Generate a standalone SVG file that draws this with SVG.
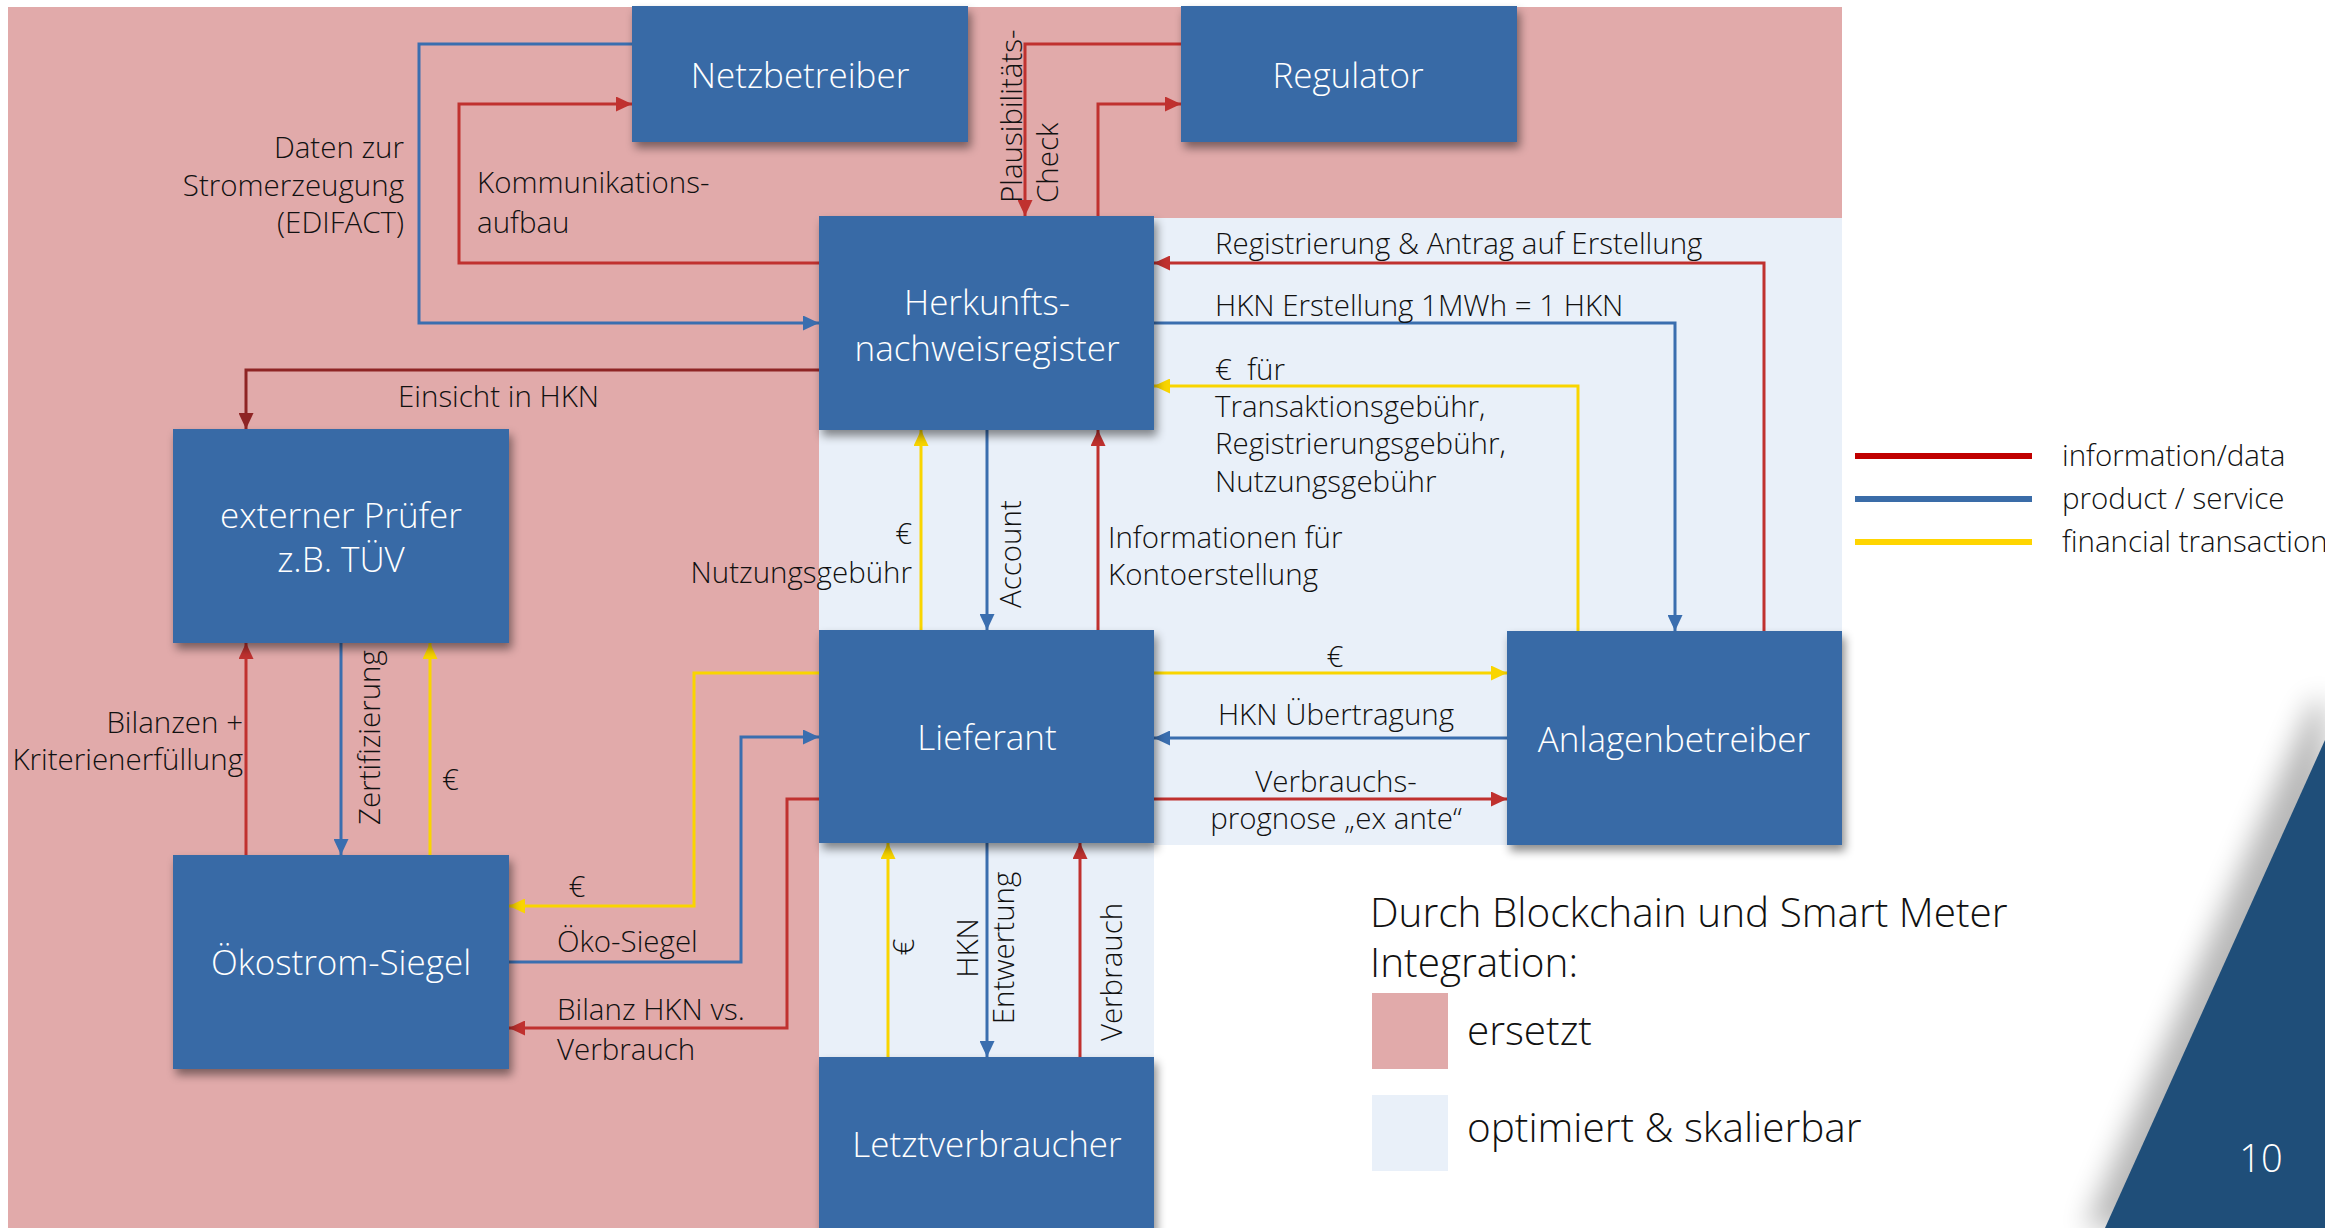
<svg xmlns="http://www.w3.org/2000/svg" width="2325" height="1228" viewBox="0 0 2325 1228">
<defs>
<style>
.box{fill:#376BA6;filter:url(#sh)}
.bt{font-family:"Open Sans","Noto Sans","Liberation Sans",sans-serif;font-weight:300;font-size:35px;fill:#ffffff;text-anchor:middle}
.lb{font-family:"Open Sans","Noto Sans","Liberation Sans",sans-serif;font-weight:300;font-size:29.5px;fill:#111111}
.big{font-family:"Open Sans","Noto Sans","Liberation Sans",sans-serif;font-weight:300;font-size:40.5px;fill:#111111}
.mid{text-anchor:middle}
.end{text-anchor:end}
.c{fill:none;stroke-width:3}
.r{stroke:#C0312F;marker-end:url(#ar)}
.d{stroke:#8E2424;marker-end:url(#ad)}
.b{stroke:#3A6EAF;marker-end:url(#ab)}
.y{stroke:#F9D500;marker-end:url(#ay)}
</style>
<filter id="sh" x="-10%" y="-10%" width="130%" height="140%">
<feDropShadow dx="3" dy="6" stdDeviation="5" flood-color="#000" flood-opacity="0.45"/>
</filter>
<filter id="tsh" x="-50%" y="-10%" width="200%" height="130%">
<feGaussianBlur stdDeviation="14"/>
</filter>
<marker id="ar" markerUnits="userSpaceOnUse" markerWidth="16" markerHeight="15" refX="16" refY="7.5" orient="auto"><path d="M0,0L16,7.5L0,15z" fill="#C0312F"/></marker>
<marker id="ad" markerUnits="userSpaceOnUse" markerWidth="16" markerHeight="15" refX="16" refY="7.5" orient="auto"><path d="M0,0L16,7.5L0,15z" fill="#8E2424"/></marker>
<marker id="ab" markerUnits="userSpaceOnUse" markerWidth="16" markerHeight="15" refX="16" refY="7.5" orient="auto"><path d="M0,0L16,7.5L0,15z" fill="#3A6EAF"/></marker>
<marker id="ay" markerUnits="userSpaceOnUse" markerWidth="16" markerHeight="15" refX="16" refY="7.5" orient="auto"><path d="M0,0L16,7.5L0,15z" fill="#F9D500"/></marker>
</defs>

<rect x="0" y="0" width="2325" height="1228" fill="#ffffff"/>

<g id="regions">
<path d="M8,7H1842V218H819V1228H8Z" fill="#E1AAAA"/>
<path d="M819,218H1842V845H1154V1228H819Z" fill="#E9F0F9"/>
</g>

<g id="corner">
<path d="M2313,700L2325,700L2325,1228L2085,1228Z" fill="#000" opacity="0.28" filter="url(#tsh)"/>
<path d="M2325,740L2325,1228L2105,1228Z" fill="#1F4E79"/>
<text x="2261" y="1172" font-family="Open Sans, Noto Sans, Liberation Sans, sans-serif" font-weight="300" font-size="38" fill="#ffffff" text-anchor="middle">10</text>
</g>

<g id="connectors">
<path class="c b" d="M632,44H419V323H819"/>
<path class="c r" d="M819,263H459V104H632"/>
<path class="c r" d="M1181,44H1025V216"/>
<path class="c r" d="M1098,216V104H1181"/>
<path class="c d" d="M819,370H246V429"/>
<path class="c r" d="M1764,631V263H1154"/>
<path class="c b" d="M1154,323H1675V631"/>
<path class="c y" d="M1578,631V386H1154"/>
<path class="c y" d="M921,630V430"/>
<path class="c b" d="M987,430V630"/>
<path class="c r" d="M1098,630V430"/>
<path class="c r" d="M246,855V643"/>
<path class="c b" d="M341,643V855"/>
<path class="c y" d="M430,855V643"/>
<path class="c y" d="M819,673H694V906H509"/>
<path class="c b" d="M509,962H741V737H819"/>
<path class="c r" d="M819,799H787V1028H509"/>
<path class="c y" d="M1154,673H1507"/>
<path class="c b" d="M1507,738H1154"/>
<path class="c r" d="M1154,799H1507"/>
<path class="c y" d="M888,1057V843"/>
<path class="c b" d="M987,843V1057"/>
<path class="c r" d="M1080,1057V843"/>
</g>

<g id="node-netzbetreiber">
<rect class="box" x="632" y="6" width="336" height="136"/>
<text class="bt" x="800" y="88">Netzbetreiber</text>
</g>
<g id="node-regulator">
<rect class="box" x="1181" y="6" width="336" height="136"/>
<text class="bt" x="1348" y="88">Regulator</text>
</g>
<g id="node-herkunft">
<rect class="box" x="819" y="216" width="335" height="214"/>
<text class="bt" x="987" y="315">Herkunfts-</text>
<text class="bt" x="987" y="361">nachweisregister</text>
</g>
<g id="node-pruefer">
<rect class="box" x="173" y="429" width="336" height="214"/>
<text class="bt" x="341" y="528">externer Prüfer</text>
<text class="bt" x="341" y="572">z.B. TÜV</text>
</g>
<g id="node-lieferant">
<rect class="box" x="819" y="630" width="335" height="213"/>
<text class="bt" x="987" y="750">Lieferant</text>
</g>
<g id="node-anlagenbetreiber">
<rect class="box" x="1507" y="631" width="335" height="214"/>
<text class="bt" x="1674" y="752">Anlagenbetreiber</text>
</g>
<g id="node-oekostrom">
<rect class="box" x="173" y="855" width="336" height="214"/>
<text class="bt" x="341" y="975">Ökostrom-Siegel</text>
</g>
<g id="node-letztverbraucher">
<rect class="box" x="819" y="1057" width="335" height="185"/>
<text class="bt" x="987" y="1157">Letztverbraucher</text>
</g>

<g id="labels">
<text class="lb end" x="404" y="158">Daten zur</text>
<text class="lb end" x="404" y="196">Stromerzeugung</text>
<text class="lb end" x="404" y="233">(EDIFACT)</text>
<text class="lb" x="477" y="193">Kommunikations-</text>
<text class="lb" x="477" y="233">aufbau</text>
<text class="lb" transform="translate(1022,203) rotate(-90)">Plausibilitäts-</text>
<text class="lb" transform="translate(1058,203) rotate(-90)">Check</text>
<text class="lb" x="398" y="407">Einsicht in HKN</text>
<text class="lb" x="1215" y="254">Registrierung &amp; Antrag auf Erstellung</text>
<text class="lb" x="1215" y="316">HKN Erstellung 1MWh = 1 HKN</text>
<text class="lb" x="1215" y="380" xml:space="preserve">€  für</text>
<text class="lb" x="1215" y="417">Transaktionsgebühr,</text>
<text class="lb" x="1215" y="454">Registrierungsgebühr,</text>
<text class="lb" x="1215" y="492">Nutzungsgebühr</text>
<text class="lb end" x="912" y="544">€</text>
<text class="lb end" x="912" y="583">Nutzungsgebühr</text>
<text class="lb" transform="translate(1021,608) rotate(-90)">Account</text>
<text class="lb" x="1108" y="548">Informationen für</text>
<text class="lb" x="1108" y="585">Kontoerstellung</text>
<text class="lb end" x="243" y="733">Bilanzen +</text>
<text class="lb end" x="243" y="770">Kriterienerfüllung</text>
<text class="lb" transform="translate(380,825) rotate(-90)">Zertifizierung</text>
<text class="lb" x="442" y="790">€</text>
<text class="lb mid" x="1335" y="667">€</text>
<text class="lb mid" x="1336" y="725">HKN Übertragung</text>
<text class="lb mid" x="1336" y="792">Verbrauchs-</text>
<text class="lb mid" x="1336" y="829">prognose „ex ante“</text>
<text class="lb mid" x="577" y="897">€</text>
<text class="lb" x="557" y="952">Öko-Siegel</text>
<text class="lb" x="557" y="1020">Bilanz HKN vs.</text>
<text class="lb" x="557" y="1060">Verbrauch</text>
<text class="lb mid" transform="translate(914,947) rotate(-90)">€</text>
<text class="lb mid" transform="translate(978,948) rotate(-90)">HKN</text>
<text class="lb mid" transform="translate(1014,948) rotate(-90)">Entwertung</text>
<text class="lb mid" transform="translate(1122,972) rotate(-90)">Verbrauch</text>
</g>

<g id="legend">
<line x1="1855" y1="456" x2="2032" y2="456" stroke="#C00000" stroke-width="6"/>
<line x1="1855" y1="499" x2="2032" y2="499" stroke="#3A6CA8" stroke-width="6"/>
<line x1="1855" y1="542" x2="2032" y2="542" stroke="#FFD500" stroke-width="6"/>
<text class="lb" x="2062" y="466">information/data</text>
<text class="lb" x="2062" y="509">product / service</text>
<text class="lb" x="2062" y="552">financial transaction</text>
</g>

<g id="key">
<text class="big" x="1370" y="927">Durch Blockchain und Smart Meter</text>
<text class="big" x="1370" y="977">Integration:</text>
<rect x="1372" y="993" width="76" height="76" fill="#E1AAAA"/>
<text class="big" x="1467" y="1045">ersetzt</text>
<rect x="1372" y="1095" width="76" height="76" fill="#E9F0F9"/>
<text class="big" x="1467" y="1142">optimiert &amp; skalierbar</text>
</g>
</svg>
